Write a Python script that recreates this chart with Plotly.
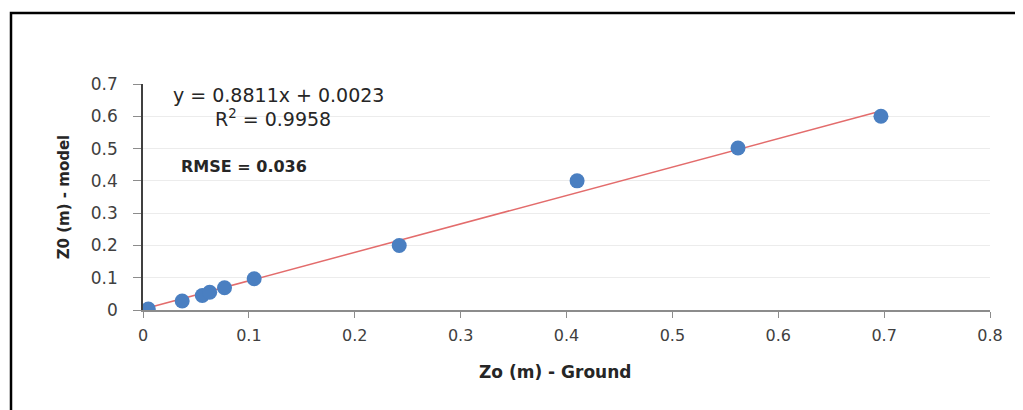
import plotly.graph_objects as go

# Data
x_ground = [0.005, 0.037, 0.056, 0.063, 0.077, 0.105, 0.242, 0.410, 0.562, 0.697]
y_model = [0.003, 0.028, 0.045, 0.055, 0.069, 0.097, 0.200, 0.400, 0.502, 0.600]
slope = 0.8811
intercept = 0.0023
x_ticks = [0, 0.1, 0.2, 0.3, 0.4, 0.5, 0.6, 0.7, 0.8]
x_tick_labels = ["0", "0.1", "0.2", "0.3", "0.4", "0.5", "0.6", "0.7", "0.8"]
y_ticks = [0, 0.1, 0.2, 0.3, 0.4, 0.5, 0.6, 0.7]
y_tick_labels = ["0", "0.1", "0.2", "0.3", "0.4", "0.5", "0.6", "0.7"]

trend_x = [min(x_ground), max(x_ground)]
trend_y = [slope * v + intercept for v in trend_x]

fig = go.Figure()
fig.add_trace(go.Scatter(
    x=trend_x, y=trend_y, mode="lines",
    line=dict(color="#E36C6C", width=1.5),
    hoverinfo="skip", showlegend=False,
))
fig.add_trace(go.Scatter(
    x=x_ground, y=y_model, mode="markers",
    marker=dict(color="#4A7FC1", size=15, line=dict(width=0)),
    showlegend=False,
))

font_family = "DejaVu Sans, sans-serif"

# page body has an 8px default margin; plot area target: x 143..990, y 84..310
OFF = 8
L, R, T, B = 143, 990, 84, 310
W, H = 1023 - OFF, 410 - OFF
pw, ph = R - L, B - T


def px(xp):
    return (xp - L) / pw


def py(yp):
    return (B - yp) / ph


fig.update_layout(
    width=W, height=H,
    margin=dict(l=L - OFF, r=W - (R - OFF), t=T - OFF, b=H - (B - OFF), pad=0),
    paper_bgcolor="white", plot_bgcolor="white",
    font=dict(family=font_family, color="#333333"),
    xaxis=dict(
        range=[0, 0.8], tickvals=x_ticks, ticktext=x_tick_labels,
        showgrid=False, zeroline=False,
        showline=True, linecolor="#8c8c8c", linewidth=1.5,
        ticks="outside", ticklen=6, tickcolor="#8c8c8c",
        tickfont=dict(size=16, color="#404040"),
        ticklabelstandoff=4,
        fixedrange=True,
    ),
    yaxis=dict(
        range=[0, 0.7], tickvals=y_ticks, ticktext=y_tick_labels,
        showgrid=True, gridcolor="#ececec", gridwidth=1,
        zeroline=False,
        showline=True, linecolor="#404040", linewidth=1.5,
        ticks="outside", ticklen=8, tickcolor="#8c8c8c",
        tickfont=dict(size=17, color="#404040"),
        ticklabelstandoff=12,
        title=dict(text="<b>Z0 (m) - model</b>", font=dict(size=15, color="#262626"), standoff=18),
        fixedrange=True,
    ),
    annotations=[
        dict(xref="paper", yref="paper", x=px(555), y=py(372),
             xanchor="center", yanchor="middle",
             text="<b>Zo (m) - Ground</b>", showarrow=False,
             font=dict(size=17, color="#262626", family=font_family)),
        dict(xref="paper", yref="paper", x=px(278), y=py(95),
             xanchor="center", yanchor="middle",
             text="y = 0.8811x + 0.0023", showarrow=False,
             font=dict(size=19, color="#262626", family=font_family)),
        dict(xref="paper", yref="paper", x=px(273), y=py(118),
             xanchor="center", yanchor="middle",
             text="R<sup>2</sup> = 0.9958", showarrow=False,
             font=dict(size=19, color="#262626", family=font_family)),
        dict(xref="paper", yref="paper", x=px(179), y=py(166),
             xanchor="left", yanchor="middle",
             text="<b>RMSE = 0.036</b>", showarrow=False,
             font=dict(size=16, color="#262626", family=font_family)),
    ],
    shapes=[
        dict(type="rect", xref="paper", yref="paper",
             x0=px(11), x1=1.2, y0=-0.6, y1=py(13),
             line=dict(color="black", width=2.5), fillcolor="rgba(0,0,0,0)", layer="below"),
    ],
)

fig.write_html("out.html")
